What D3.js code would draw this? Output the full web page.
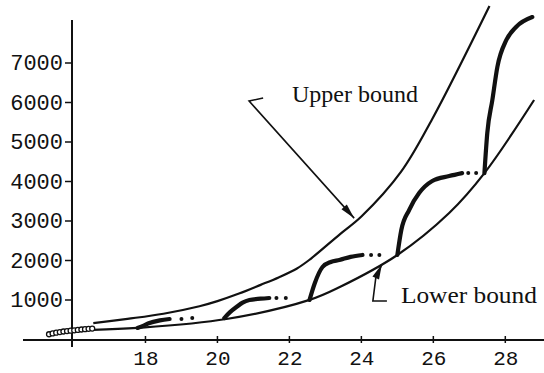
<!DOCTYPE html>
<html lang="en">
<head>
  <meta charset="UTF-8">
  <title>Upper / lower bound</title>
  <style>
    *{
      margin:0;
      padding:0;
    }
    body{ background:#fff; }
  </style>
  <script src="https://cdn.jsdelivr.net/npm/d3@7/dist/d3.min.js"></script>
</head>
<body>
  <svg id="mainsvg" style="display:block"></svg>

  <script>
    const width = 544
    const height = 373

    // axis ticks
    const xTicks = [18, 20, 22, 24, 26, 28]
    const yTicks = [1000, 2000, 3000, 4000, 5000, 6000, 7000]

    // bound curves
    const upperX = [16.55, 17.5, 18.5, 19.5, 20.0, 20.6, 21.2, 21.7, 22.2, 22.55, 23.4, 24.0, 25.1, 25.97, 27.56]
    const upperY = [400, 510, 640, 830, 960, 1150, 1370, 1560, 1780, 2000, 2650, 3100, 4230, 5570, 8430]
    const lowerX = [16.55, 17.78, 20.25, 22.56, 23.4, 25.0, 26.44, 27.42, 28.8]
    const lowerY = [230, 280, 506, 990, 1316, 2127, 3190, 4200, 6050]

    // first run: the chain of small open circles at the left
    const run0X = [15.32, 15.42, 15.52, 15.62, 15.72, 15.82, 15.92, 16.02, 16.12, 16.22, 16.32, 16.42, 16.52]
    const run0Y = [120, 140, 160, 175, 190, 200, 210, 220, 230, 240, 250, 258, 265]

    // the other runs: thick part, then the trailing dots
    const runX = [
      [17.78, 17.95, 18.11, 18.4, 18.67],
      [20.19, 20.35, 20.53, 20.7, 20.89, 21.2, 21.44],
      [22.56, 22.7, 22.92, 23.15, 23.39, 23.7, 24.03],
      [25.0, 25.11, 25.33, 25.61, 25.97, 26.44, 26.8],
      [27.42, 27.5, 27.64, 27.78, 28.03, 28.3, 28.75]
    ]
    const runY = [
      [280, 340, 405, 470, 506],
      [530, 680, 810, 920, 987, 1020, 1038],
      [990, 1400, 1823, 1950, 2000, 2080, 2127],
      [2127, 2760, 3270, 3700, 4000, 4125, 4200],
      [4200, 5220, 6050, 6890, 7570, 7900, 8150]
    ]
    const dotX = [[19.0, 19.3], [21.64, 21.9], [24.27, 24.5], [26.97, 27.19]]
    const dotY = [[506, 530], [1038, 1038], [2127, 2127], [4200, 4200]]

    // annotations (data units)
    const labels = ['Upper bound', 'Lower bound']
    const labelX = [22.07, 25.1]
    const labelY = [6000, 911]
    const labelLen = [126, 136]
    const leaderX = [[21.27, 20.88, 23.8], [24.71, 24.32, 24.4]]
    const leaderY = [[6100, 6025, 3060], [962, 962, 1544]]
    const tipX = [23.8, 24.57]
    const tipY = [3060, 1890]

    const svg = d3.select('#mainsvg').attr('width', width).attr('height', height)

    const x = d3.scaleLinear().domain([16, 28]).range([73.5, 505.3])
    const y = d3.scaleLinear().domain([0, 7000]).range([339, 62.5])

    const g = svg.append('g')

    drawAxes()
    drawBounds()
    drawRuns()
    drawNotes()

    function drawAxes(){
      // x axis line + crossing ticks
      g.append('line')
        .attr('x1', 23).attr('x2', width)
        .attr('y1', y(0) + 1).attr('y2', y(0) + 1)
        .attr('stroke', '#111').attr('stroke-width', 2)
      g.append('g').selectAll('line').data(xTicks).join('line')
        .attr('x1', d => x(d)).attr('x2', d => x(d))
        .attr('y1', y(0) - 3).attr('y2', y(0) + 4)
        .attr('stroke', '#111').attr('stroke-width', 1.5)

      const xa = g.append('g')
        .attr('transform', `translate(0,${y(0)})`)
        .call(d3.axisBottom(x).tickValues(xTicks).tickSize(0).tickPadding(11).tickFormat(d3.format('d')))
      xa.select('.domain').remove()
      xa.selectAll('text')
        .attr('font-family', '"Liberation Mono", "Courier New", monospace')
        .attr('font-size', 21).attr('fill', '#111')

      // y axis
      g.append('line')
        .attr('x1', x(16) - 1.5).attr('x2', x(16) - 1.5)
        .attr('y1', 20).attr('y2', 347)
        .attr('stroke', '#111').attr('stroke-width', 2)
      const ya = g.append('g')
        .attr('transform', `translate(${x(16) - 1.5},0)`)
        .call(d3.axisLeft(y).tickValues(yTicks).tickSize(7).tickPadding(2).tickFormat(d3.format('d')))
      ya.select('.domain').remove()
      ya.selectAll('line').attr('stroke', '#111').attr('stroke-width', 1.5)
      ya.selectAll('text')
        .attr('font-family', '"Liberation Mono", "Courier New", monospace')
        .attr('font-size', 22).attr('fill', '#111')
    }

    function drawBounds(){
      const line = d3.line().x(d => x(d[0])).y(d => y(d[1])).curve(d3.curveCatmullRom.alpha(0.5))
      const up = upperX.map((v, i) => [v, upperY[i]])
      const lo = lowerX.map((v, i) => [v, lowerY[i]])
      g.selectAll('path.bound').data([up, lo]).join('path')
        .attr('class', 'bound')
        .attr('fill', 'none')
        .attr('stroke', '#111')
        .attr('stroke-width', 2.2)
        .attr('d', line)
    }

    function drawRuns(){
      g.append('g').selectAll('circle').data(run0X).join('circle')
        .attr('cx', d => x(d))
        .attr('cy', (d, i) => y(run0Y[i]))
        .attr('r', 2.5)
        .attr('fill', '#fff')
        .attr('stroke', '#111')
        .attr('stroke-width', 1.3)

      const line = d3.line().x(d => x(d[0])).y(d => y(d[1])).curve(d3.curveMonotoneX)
      const runs = runX.map((xs, k) => xs.map((v, i) => [v, runY[k][i]]))
      g.selectAll('path.run').data(runs).join('path')
        .attr('class', 'run')
        .attr('fill', 'none')
        .attr('stroke', '#111')
        .attr('stroke-width', 4.2)
        .attr('stroke-linecap', 'round')
        .attr('d', line)

      const dots = dotX.flatMap((xs, k) => xs.map((v, i) => [v, dotY[k][i]]))
      g.append('g').selectAll('circle').data(dots).join('circle')
        .attr('cx', d => x(d[0]))
        .attr('cy', d => y(d[1]))
        .attr('r', 2)
        .attr('fill', '#111')
    }

    function arrowHead(from, tip, len, half){
      const dx = tip[0] - from[0], dy = tip[1] - from[1]
      const d = Math.hypot(dx, dy), ux = dx / d, uy = dy / d
      const bx = tip[0] - ux * len, by = tip[1] - uy * len
      return `M${tip[0]},${tip[1]} L${bx - uy * half},${by + ux * half} L${bx + uy * half},${by - ux * half} Z`
    }

    function drawNotes(){
      labels.forEach((t, i) => {
        g.append('text')
          .attr('x', x(labelX[i]))
          .attr('y', y(labelY[i]))
          .attr('font-family', '"Liberation Serif", "Times New Roman", serif')
          .attr('font-size', 23)
          .attr('textLength', labelLen[i])
          .attr('lengthAdjust', 'spacingAndGlyphs')
          .attr('fill', '#111')
          .text(t)

        const pts = leaderX[i].map((v, j) => [x(v), y(leaderY[i][j])])
        g.append('path')
          .attr('fill', 'none')
          .attr('stroke', '#111')
          .attr('stroke-width', 1.6)
          .attr('d', d3.line()(pts))

        const last = pts[pts.length - 1]
        const tip = [x(tipX[i]), y(tipY[i])]
        const from = i === 0 ? pts[1] : last
        if (i === 1) {
          g.append('line')
            .attr('x1', last[0]).attr('y1', last[1])
            .attr('x2', tip[0]).attr('y2', tip[1])
            .attr('stroke', '#111').attr('stroke-width', 1.6)
        }
        g.append('path')
          .attr('d', arrowHead(from, tip, 15, 3.6))
          .attr('fill', '#111')
      })
    }
  </script>
</body>
</html>
